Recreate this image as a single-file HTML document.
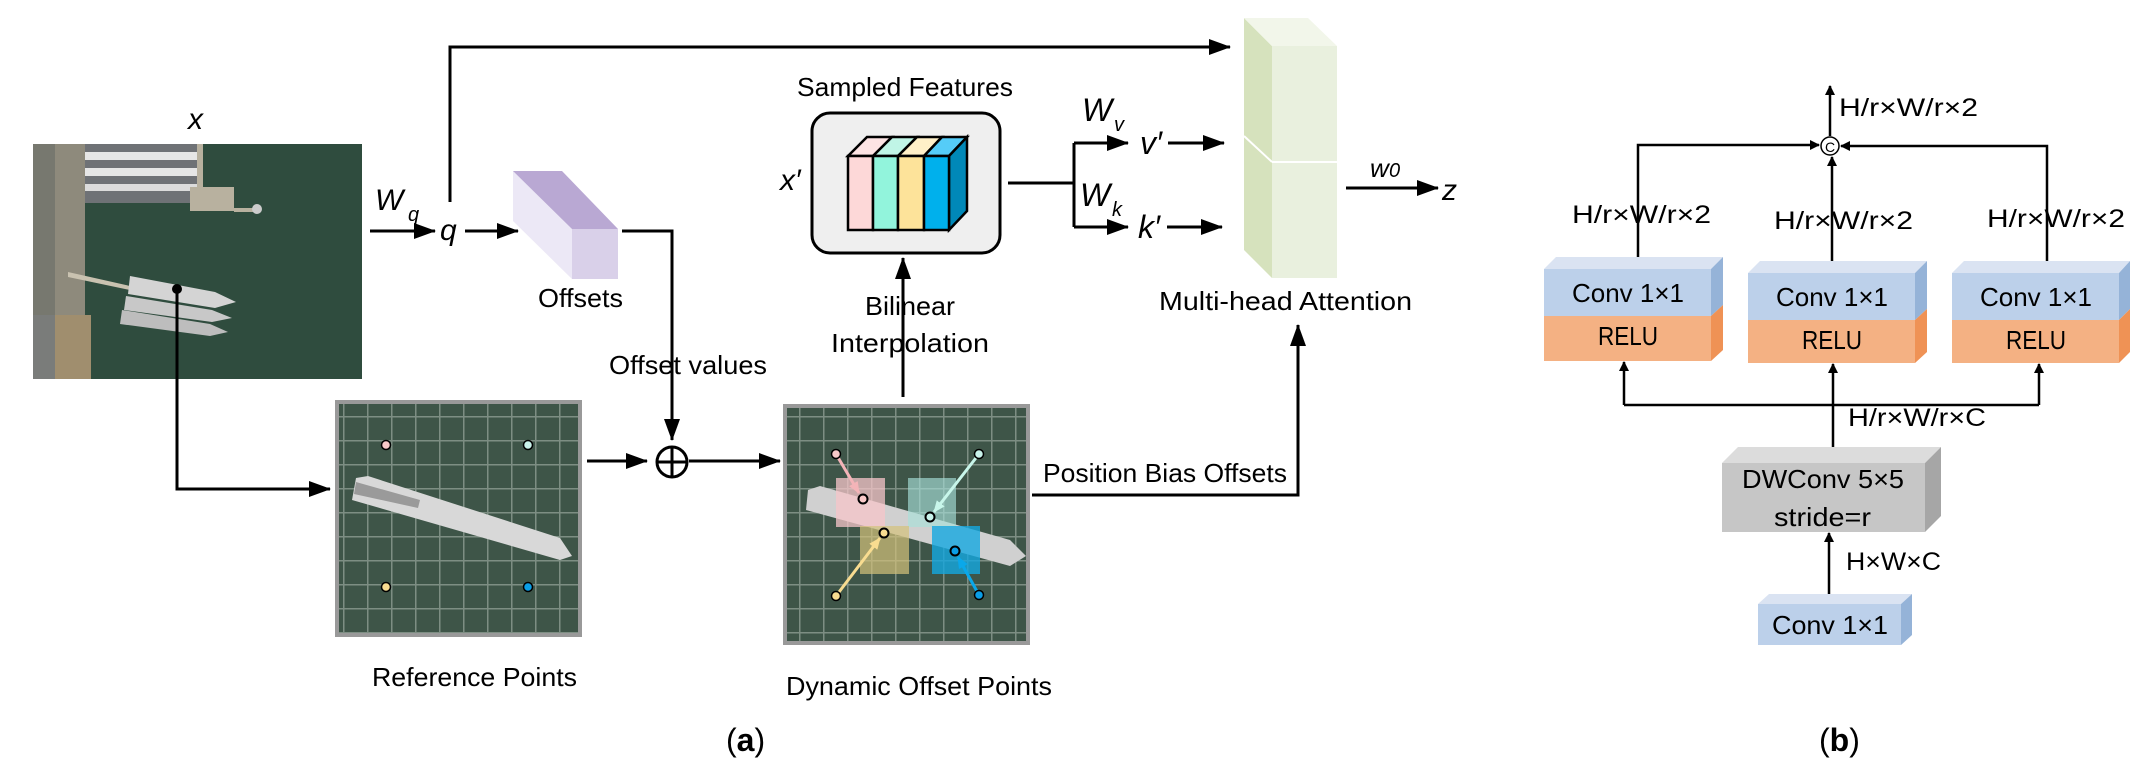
<!DOCTYPE html>
<html><head><meta charset="utf-8"><style>
html,body{margin:0;padding:0;background:#fff;}
svg{display:block;}
text{font-family:"Liberation Sans",sans-serif;fill:#000;}
</style></head><body>
<svg width="2149" height="772" viewBox="0 0 2149 772" xmlns="http://www.w3.org/2000/svg">
<defs>
<marker id="ah" markerWidth="10" markerHeight="10" refX="9" refY="5" orient="auto" markerUnits="userSpaceOnUse"><path d="M0,0 L10,5 L0,10 z" fill="#000"/></marker>
<marker id="ab" markerWidth="22" markerHeight="16" refX="21" refY="8" orient="auto" markerUnits="userSpaceOnUse"><path d="M0,0 L22,8 L0,16 z" fill="#000"/></marker>
<marker id="mp" markerWidth="12" markerHeight="10" refX="11" refY="5" orient="auto" markerUnits="userSpaceOnUse"><path d="M0,0 L12,5 L0,10 z" fill="#f4b4b8"/></marker>
<marker id="mc" markerWidth="12" markerHeight="10" refX="11" refY="5" orient="auto" markerUnits="userSpaceOnUse"><path d="M0,0 L12,5 L0,10 z" fill="#c8f6ea"/></marker>
<marker id="my" markerWidth="12" markerHeight="10" refX="11" refY="5" orient="auto" markerUnits="userSpaceOnUse"><path d="M0,0 L12,5 L0,10 z" fill="#f8dc90"/></marker>
<marker id="mb" markerWidth="12" markerHeight="10" refX="11" refY="5" orient="auto" markerUnits="userSpaceOnUse"><path d="M0,0 L12,5 L0,10 z" fill="#0aa8ea"/></marker>
<pattern id="grid" width="24" height="24" patternUnits="userSpaceOnUse" x="7" y="8"><rect width="24" height="24" fill="#3e5548"/><path d="M0,0 H24 M0,0 V24" stroke="#7d8e83" stroke-width="3"/></pattern>
</defs>

<!-- Satellite image -->
<rect x="33" y="144" width="329" height="235" fill="#2f4c3e"/>
<rect x="33" y="144" width="52" height="235" fill="#8e8a7c"/>
<rect x="33" y="144" width="22" height="235" fill="#77786f"/>
<rect x="85" y="144" width="115" height="59" fill="#6f7276"/>
<rect x="85" y="152" width="115" height="8" fill="#e6e6e6"/>
<rect x="85" y="168" width="115" height="8" fill="#e6e6e6"/>
<rect x="85" y="184" width="115" height="7" fill="#dcdcdc"/>
<rect x="197" y="144" width="6" height="50" fill="#b8b19f"/>
<rect x="190" y="187" width="44" height="24" fill="#b8b19f"/>
<rect x="234" y="208" width="20" height="4" fill="#b8b19f"/>
<circle cx="257" cy="209" r="5" fill="#ccc"/>
<rect x="33" y="315" width="58" height="64" fill="#a08e6e"/>
<rect x="33" y="315" width="22" height="64" fill="#7a7c7a"/>
<path d="M68,272 L130,286 L130,290 L68,277 z" fill="#c9c2b0"/>
<path d="M130,276 L215,292 L236,302 L215,308 L128,294 z" fill="#d4d4d4"/>
<path d="M126,296 L212,310 L232,318 L212,322 L124,310 z" fill="#c8c8c8"/>
<path d="M122,310 L210,324 L228,332 L210,336 L120,324 z" fill="#bdbdbd"/>

<!-- x label -->
<text x="188" y="129" font-size="30" font-style="italic">x</text>

<circle cx="177" cy="289" r="5" fill="#000"/>
<polyline points="177,289 177,489 330,489" fill="none" stroke="#000" stroke-width="3" marker-end="url(#ab)"/>

<!-- Wq / q -->
<line x1="370" y1="231" x2="435" y2="231" stroke="#000" stroke-width="3" marker-end="url(#ab)"/>
<text x="375" y="210" font-size="30" font-style="italic">W</text>
<text x="408" y="221" font-size="20" font-style="italic">q</text>
<text x="440" y="240" font-size="30" font-style="italic">q</text>
<line x1="465" y1="231" x2="518" y2="231" stroke="#000" stroke-width="3" marker-end="url(#ab)"/>
<polyline points="450,202 450,47 1230,47" fill="none" stroke="#000" stroke-width="3" marker-end="url(#ab)"/>

<!-- Offsets cube -->
<polygon points="513,171 572,229 572,279 513,221" fill="#ece8f6"/>
<polygon points="513,171 562,171 618,229 572,229" fill="#b9a8d3"/>
<rect x="572" y="229" width="46" height="50" fill="#d9d0e9"/>
<text x="538" y="307" font-size="26" textLength="85" lengthAdjust="spacingAndGlyphs">Offsets</text>
<polyline points="622,231 672,231 672,440" fill="none" stroke="#000" stroke-width="3" marker-end="url(#ab)"/>
<text x="609" y="374" font-size="26" textLength="158" lengthAdjust="spacingAndGlyphs">Offset values</text>

<!-- Reference grid -->
<rect x="337" y="402" width="243" height="233" fill="url(#grid)" stroke="#999" stroke-width="4"/>
<path d="M356,478 L368,476 L560,538 L572,556 L560,560 L352,500 z" fill="#d8d8d8"/>
<path d="M356,482 L420,500 L418,508 L354,494 z" fill="#9a9a9a"/>
<circle cx="386" cy="445" r="4.5" fill="#f8c8c8" stroke="#000" stroke-width="1.5"/>
<circle cx="528" cy="445" r="4.5" fill="#c8f2ea" stroke="#000" stroke-width="1.5"/>
<circle cx="386" cy="587" r="4.5" fill="#f8dc90" stroke="#000" stroke-width="1.5"/>
<circle cx="528" cy="587" r="4.5" fill="#0a9ee6" stroke="#000" stroke-width="1.5"/>
<text x="372" y="686" font-size="26" textLength="205" lengthAdjust="spacingAndGlyphs">Reference Points</text>
<line x1="587" y1="461" x2="647" y2="461" stroke="#000" stroke-width="3" marker-end="url(#ab)"/>

<!-- oplus -->
<circle cx="672" cy="462" r="15" fill="#fff" stroke="#000" stroke-width="3"/>
<line x1="657" y1="462" x2="687" y2="462" stroke="#000" stroke-width="3"/>
<line x1="672" y1="447" x2="672" y2="477" stroke="#000" stroke-width="3"/>
<line x1="689" y1="461" x2="780" y2="461" stroke="#000" stroke-width="3" marker-end="url(#ab)"/>

<!-- Dynamic grid -->
<rect x="785" y="406" width="243" height="237" fill="url(#grid)" stroke="#999" stroke-width="4"/>
<path d="M808,490 L820,486 L1010,540 L1026,556 L1010,566 L806,510 z" fill="#d0d0d0"/>
<rect x="836" y="478" width="49" height="49" fill="#f7c6c9" opacity="0.75"/>
<rect x="908" y="478" width="48" height="49" fill="#a8e0d8" opacity="0.65"/>
<rect x="860" y="526" width="49" height="48" fill="#d4c27a" opacity="0.7"/>
<rect x="932" y="526" width="48" height="48" fill="#14a8e0" opacity="0.8"/>
<line x1="836" y1="454" x2="859" y2="493" stroke="#f4b4b8" stroke-width="3" marker-end="url(#mp)"/>
<line x1="979" y1="454" x2="934" y2="512" stroke="#c8f6ea" stroke-width="3" marker-end="url(#mc)"/>
<line x1="836" y1="596" x2="880" y2="538" stroke="#f8dc90" stroke-width="3" marker-end="url(#my)"/>
<line x1="979" y1="595" x2="958" y2="557" stroke="#0aa8ea" stroke-width="3" marker-end="url(#mb)"/>
<circle cx="836" cy="454" r="4.5" fill="#f8c8c8" stroke="#000" stroke-width="1.5"/>
<circle cx="979" cy="454" r="4.5" fill="#c8f2ea" stroke="#000" stroke-width="1.5"/>
<circle cx="836" cy="596" r="4.5" fill="#f8dc90" stroke="#000" stroke-width="1.5"/>
<circle cx="979" cy="595" r="4.5" fill="#0a9ee6" stroke="#000" stroke-width="1.5"/>
<circle cx="863" cy="499" r="4.5" fill="#f8c8c8" stroke="#000" stroke-width="2"/>
<circle cx="930" cy="517" r="4.5" fill="#c8f2ea" stroke="#000" stroke-width="2"/>
<circle cx="884" cy="533" r="4.5" fill="#f8dc90" stroke="#000" stroke-width="2"/>
<circle cx="955" cy="551" r="4.5" fill="#0a9ee6" stroke="#000" stroke-width="2"/>
<text x="786" y="695" font-size="26" textLength="266" lengthAdjust="spacingAndGlyphs">Dynamic Offset Points</text>

<!-- Bilinear -->
<line x1="903" y1="397" x2="903" y2="258" stroke="#000" stroke-width="3" marker-end="url(#ab)"/>
<text x="865" y="315" font-size="26" textLength="90" lengthAdjust="spacingAndGlyphs">Bilinear</text>
<text x="831" y="352" font-size="26" textLength="158" lengthAdjust="spacingAndGlyphs">Interpolation</text>

<!-- Sampled features -->
<text x="797" y="96" font-size="26" textLength="216" lengthAdjust="spacingAndGlyphs">Sampled Features</text>
<rect x="812" y="113" width="188" height="140" rx="18" fill="#efefef" stroke="#000" stroke-width="3"/>
<text x="780" y="190" font-size="30" font-style="italic">x′</text>
<g stroke="#000" stroke-width="2.5">
<polygon points="848,156 867,137 892,137 873,156" fill="#fde4e4"/>
<polygon points="873,156 892,137 917,137 898,156" fill="#c0f5e6"/>
<polygon points="898,156 917,137 942,137 924,156" fill="#fff0c8"/>
<polygon points="924,156 942,137 967,137 949,156" fill="#55ccf8"/>
<polygon points="949,156 967,137 967,211 949,230" fill="#0088b8"/>
<rect x="848" y="156" width="25" height="74" fill="#fdd8d8"/>
<rect x="873" y="156" width="25" height="74" fill="#92f4dc"/>
<rect x="898" y="156" width="26" height="74" fill="#fde39a"/>
<rect x="924" y="156" width="25" height="74" fill="#00b0ec"/>
</g>

<polyline points="1008,183 1074,183" fill="none" stroke="#000" stroke-width="3"/>
<polyline points="1074,143 1074,227" fill="none" stroke="#000" stroke-width="3"/>
<line x1="1074" y1="143" x2="1128" y2="143" stroke="#000" stroke-width="3" marker-end="url(#ab)"/>
<line x1="1074" y1="227" x2="1128" y2="227" stroke="#000" stroke-width="3" marker-end="url(#ab)"/>
<text x="1082" y="121" font-size="32" font-style="italic">W</text>
<text x="1114" y="131" font-size="20" font-style="italic">v</text>
<text x="1080" y="206" font-size="32" font-style="italic">W</text>
<text x="1112" y="216" font-size="20" font-style="italic">k</text>
<text x="1140" y="154" font-size="32" font-style="italic">v′</text>
<text x="1138" y="238" font-size="32" font-style="italic">k′</text>
<line x1="1168" y1="143" x2="1224" y2="143" stroke="#000" stroke-width="3" marker-end="url(#ab)"/>
<line x1="1167" y1="227" x2="1222" y2="227" stroke="#000" stroke-width="3" marker-end="url(#ab)"/>

<!-- Multi-head attention block -->
<polygon points="1244,18 1272,46 1272,278 1244,250" fill="#d6e2bd"/>
<polygon points="1244,18 1308,18 1337,46 1272,46" fill="#f2f6ea"/>
<rect x="1272" y="46" width="65" height="232" fill="#e9f0de"/>
<line x1="1244" y1="136" x2="1272" y2="162" stroke="#fff" stroke-width="2"/>
<line x1="1272" y1="162" x2="1337" y2="162" stroke="#fff" stroke-width="2"/>
<text x="1159" y="310" font-size="26" textLength="253" lengthAdjust="spacingAndGlyphs">Multi-head Attention</text>
<line x1="1346" y1="188" x2="1438" y2="188" stroke="#000" stroke-width="3" marker-end="url(#ab)"/>
<text x="1370" y="177" font-size="26" font-style="italic">w</text>
<text x="1389" y="177" font-size="20" font-style="italic">0</text>
<text x="1442" y="200" font-size="30" font-style="italic">z</text>

<polyline points="1032,495 1298,495 1298,325" fill="none" stroke="#000" stroke-width="3" marker-end="url(#ab)"/>
<text x="1043" y="482" font-size="26" textLength="244" lengthAdjust="spacingAndGlyphs">Position Bias Offsets</text>

<text x="726" y="751" font-size="32" font-family="Liberation Serif, serif">(<tspan font-weight="bold">a</tspan>)</text>
<text x="1819" y="751" font-size="32" font-family="Liberation Serif, serif">(<tspan font-weight="bold">b</tspan>)</text>

<!-- Part (b) -->
<g>
<polygon points="1544,269 1556,257 1723,257 1711,269" fill="#dae3f2"/>
<polygon points="1711,269 1723,257 1723,305 1711,316" fill="#95b3d8"/>
<polygon points="1711,316 1723,305 1723,350 1711,361" fill="#ef9255"/>
<rect x="1544" y="269" width="167" height="47" fill="#bcd0ea"/>
<rect x="1544" y="316" width="167" height="45" fill="#f4b183"/>
<text x="1572" y="302" font-size="26" textLength="112" lengthAdjust="spacingAndGlyphs">Conv 1×1</text>
<text x="1598" y="345" font-size="26" textLength="60" lengthAdjust="spacingAndGlyphs">RELU</text>
</g>
<g>
<polygon points="1748,273 1760,261 1927,261 1915,273" fill="#dae3f2"/>
<polygon points="1915,273 1927,261 1927,309 1915,320" fill="#95b3d8"/>
<polygon points="1915,320 1927,309 1927,352 1915,363" fill="#ef9255"/>
<rect x="1748" y="273" width="167" height="47" fill="#bcd0ea"/>
<rect x="1748" y="320" width="167" height="43" fill="#f4b183"/>
<text x="1776" y="306" font-size="26" textLength="112" lengthAdjust="spacingAndGlyphs">Conv 1×1</text>
<text x="1802" y="349" font-size="26" textLength="60" lengthAdjust="spacingAndGlyphs">RELU</text>
</g>
<g>
<polygon points="1952,273 1964,261 2130,261 2119,273" fill="#dae3f2"/>
<polygon points="2119,273 2130,261 2130,309 2119,320" fill="#95b3d8"/>
<polygon points="2119,320 2130,309 2130,352 2119,363" fill="#ef9255"/>
<rect x="1952" y="273" width="167" height="47" fill="#bcd0ea"/>
<rect x="1952" y="320" width="167" height="43" fill="#f4b183"/>
<text x="1980" y="306" font-size="26" textLength="112" lengthAdjust="spacingAndGlyphs">Conv 1×1</text>
<text x="2006" y="349" font-size="26" textLength="60" lengthAdjust="spacingAndGlyphs">RELU</text>
</g>

<circle cx="1830" cy="146" r="9" fill="#fff" stroke="#000" stroke-width="1.5"/>
<text x="1825" y="152" font-size="14">C</text>
<polyline points="1638,257 1638,145 1819,145" fill="none" stroke="#000" stroke-width="2.5" marker-end="url(#ah)"/>
<polyline points="2047,261 2047,146 1841,146" fill="none" stroke="#000" stroke-width="2.5" marker-end="url(#ah)"/>
<line x1="1832" y1="261" x2="1832" y2="157" stroke="#000" stroke-width="2.5" marker-end="url(#ah)"/>
<line x1="1830" y1="136" x2="1830" y2="86" stroke="#000" stroke-width="2.5" marker-end="url(#ah)"/>
<text x="1839" y="116" font-size="25" textLength="139" lengthAdjust="spacingAndGlyphs">H/r×W/r×2</text>
<text x="1572" y="223" font-size="25" textLength="139" lengthAdjust="spacingAndGlyphs">H/r×W/r×2</text>
<text x="1774" y="229" font-size="25" textLength="139" lengthAdjust="spacingAndGlyphs">H/r×W/r×2</text>
<text x="1987" y="227" font-size="25" textLength="138" lengthAdjust="spacingAndGlyphs">H/r×W/r×2</text>

<polyline points="1624,405 2039,405" fill="none" stroke="#000" stroke-width="2.5"/>
<line x1="1624" y1="405" x2="1624" y2="362" stroke="#000" stroke-width="2.5" marker-end="url(#ah)"/>
<line x1="2039" y1="405" x2="2039" y2="364" stroke="#000" stroke-width="2.5" marker-end="url(#ah)"/>
<line x1="1833" y1="447" x2="1833" y2="364" stroke="#000" stroke-width="2.5" marker-end="url(#ah)"/>
<text x="1848" y="426" font-size="25" textLength="138" lengthAdjust="spacingAndGlyphs">H/r×W/r×C</text>

<polygon points="1722,463 1738,447 1941,447 1925,463" fill="#dcdcdc"/>
<polygon points="1925,463 1941,447 1941,516 1925,532" fill="#a6a6a6"/>
<rect x="1722" y="463" width="203" height="69" fill="#c6c6c6"/>
<text x="1742" y="488" font-size="26" textLength="162" lengthAdjust="spacingAndGlyphs">DWConv 5×5</text>
<text x="1774" y="526" font-size="26" textLength="97" lengthAdjust="spacingAndGlyphs">stride=r</text>
<line x1="1829" y1="594" x2="1829" y2="533" stroke="#000" stroke-width="2.5" marker-end="url(#ah)"/>
<text x="1846" y="570" font-size="25" textLength="95" lengthAdjust="spacingAndGlyphs">H×W×C</text>

<polygon points="1758,604 1769,594 1912,594 1901,604" fill="#dae3f2"/>
<polygon points="1901,604 1912,594 1912,635 1901,645" fill="#95b3d8"/>
<rect x="1758" y="604" width="143" height="41" fill="#bcd0ea"/>
<text x="1772" y="634" font-size="26" textLength="116" lengthAdjust="spacingAndGlyphs">Conv 1×1</text>
</svg>
</body></html>
